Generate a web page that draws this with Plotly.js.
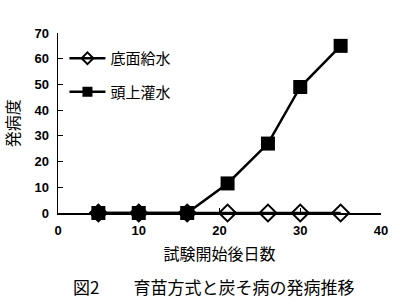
<!DOCTYPE html>
<html><head><meta charset="utf-8">
<script src="https://cdn.plot.ly/plotly-3.0.1.min.js"></script>
<style>html,body{margin:0;padding:0;background:#fff}</style>
</head><body>
<div id="chart" style="width:400px;height:306px"></div>
<script>
const days = [5, 10, 16, 21, 26, 30, 35];
const bottomWatering = [0, 0, 0, 0, 0, 0, 0];
const overheadWatering = [0, 0, 0, 11.5, 27, 49, 65];
const seriesNames = ['底面給水', '頭上灌水'];
const xTitle = '試験開始後日数';
const yTitle = '発病度';
const caption = '図2　　育苗方式と炭そ病の発病推移';

const jp = 'Noto Sans CJK JP, sans-serif';
const traces = [
  {x: days, y: bottomWatering, name: seriesNames[0], type: 'scatter', mode: 'lines+markers', showlegend: false,
   cliponaxis: false, line: {color: '#000', width: 2.5},
   marker: {symbol: 'diamond-open', size: 13, color: '#000', line: {width: 2, color: '#000'}}},
  {x: days, y: overheadWatering, name: seriesNames[1], type: 'scatter', mode: 'lines+markers', showlegend: false,
   cliponaxis: false, line: {color: '#000', width: 2.5},
   marker: {symbol: 'square', size: 14, color: '#000'}},
  {x: [null], y: [null], name: seriesNames[0], type: 'scatter', mode: 'lines+markers', legendgroup: 'a',
   line: {color: '#000', width: 2.5},
   marker: {symbol: 'diamond-open', size: 9, color: '#000', line: {width: 2, color: '#000'}}},
  {x: [null], y: [null], name: seriesNames[1], type: 'scatter', mode: 'lines+markers', legendgroup: 'b',
   line: {color: '#000', width: 2.5},
   marker: {symbol: 'square', size: 10, color: '#000'}}
];
const layout = {
  width: 400, height: 306,
  margin: {l: 58, r: 19, t: 33, b: 93},
  paper_bgcolor: '#fff', plot_bgcolor: '#fff',
  font: {family: 'Liberation Sans, Arial, sans-serif', color: '#000', size: 13},
  showlegend: true,
  legend: {x: 0.02, y: 0.95, xanchor: 'left', yanchor: 'top', bgcolor: 'rgba(0,0,0,0)',
           font: {family: jp, size: 15}, tracegroupgap: 11, itemwidth: 36},
  xaxis: {range: [0, 40], dtick: 10, tick0: 0, showgrid: false, zeroline: false,
          showline: true, linecolor: '#000', linewidth: 1.5, ticks: 'inside', ticklen: 5, tickcolor: '#000',
          tickfont: {size: 13, weight: 'bold'}, ticklabelstandoff: 5,
          title: {text: xTitle, font: {family: jp, size: 16}, standoff: 11}},
  yaxis: {range: [0, 70], dtick: 10, tick0: 0, showgrid: false, zeroline: false,
          showline: true, linecolor: '#000', linewidth: 1.5, ticks: 'inside', ticklen: 5, tickcolor: '#000',
          tickfont: {size: 13, weight: 'bold'}, ticklabelstandoff: 5},
  annotations: [
    {text: yTitle, xref: 'paper', yref: 'paper', x: -0.142, y: 0.5, xanchor: 'center', yanchor: 'middle',
     textangle: -90, showarrow: false, font: {family: jp, size: 16}},
    {text: caption, xref: 'paper', yref: 'paper', x: 0.48, y: -0.41, xanchor: 'center', yanchor: 'middle',
     showarrow: false, font: {family: jp, size: 17}}]
};
Plotly.newPlot('chart', traces, layout, {displayModeBar: false, staticPlot: true});
</script>
</body></html>
